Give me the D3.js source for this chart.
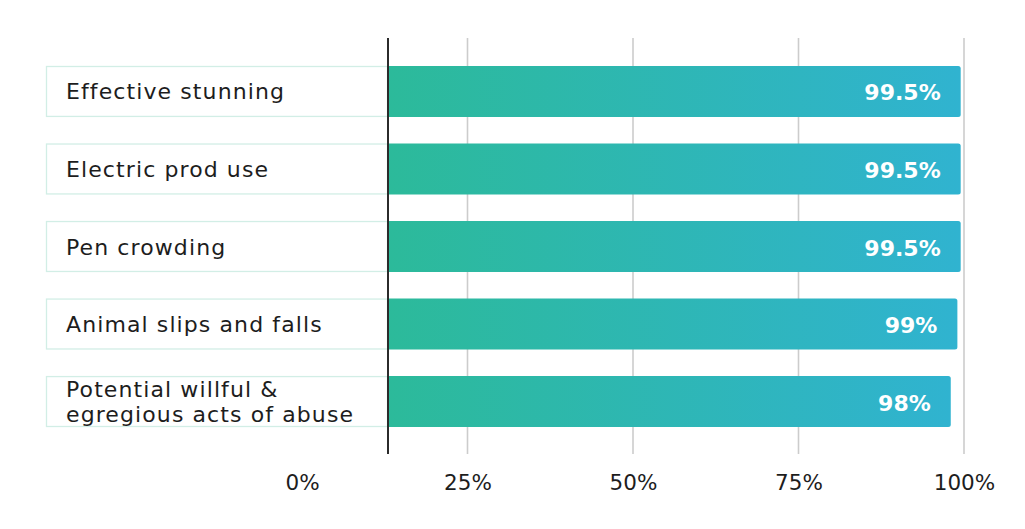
<!DOCTYPE html>
<html>
<head>
<meta charset="utf-8">
<script src="https://cdn.jsdelivr.net/npm/d3@7"></script>
<style>
  body { margin: 0; background: #fff; }
  text { font-family: "DejaVu Sans", sans-serif; }
</style>
</head>
<body>
<div id="chart"></div>
<script>
// Data
const categories = [
  ["Effective stunning"],
  ["Electric prod use"],
  ["Pen crowding"],
  ["Animal slips and falls"],
  ["Potential willful &", "egregious acts of abuse"]
];
const values = [99.5, 99.5, 99.5, 99, 98];
const valueLabels = ["99.5%", "99.5%", "99.5%", "99%", "98%"];
const tickValues = [0, 25, 50, 75, 100];

const width = 1025;
const height = 529;

const svg = d3.select("#chart")
  .append("svg")
  .attr("width", width)
  .attr("height", height);

// Gradient for bars
const grad = svg.append("defs").append("linearGradient")
  .attr("id", "barGrad")
  .attr("x1", "0%").attr("x2", "100%")
  .attr("y1", "0%").attr("y2", "0%");
grad.append("stop").attr("offset", "0%").attr("stop-color", "#2cba9a");
grad.append("stop").attr("offset", "100%").attr("stop-color", "#30b3d0");

// Scales
const x = d3.scaleLinear().domain([0, 100]).range([302, 964]);
const y = d3.scaleBand()
  .domain(d3.range(categories.length))
  .range([66, 427])
  .paddingInner(0.343)
  .paddingOuter(0);

const boxLeft = 46;
const axisX = 388;
const gridTop = 38;
const gridBottom = 454;

// Gridlines
svg.append("g")
  .selectAll("line")
  .data(tickValues.slice(1))
  .join("line")
  .attr("x1", d => x(d))
  .attr("x2", d => x(d))
  .attr("y1", gridTop)
  .attr("y2", gridBottom)
  .attr("stroke", "#cccccc")
  .attr("stroke-width", 1.6);

// Bars start at the axis line, rounded on the right end
svg.append("g")
  .selectAll("path")
  .data(values)
  .join("path")
  .attr("d", (d, i) => {
    const x0 = axisX, x1 = x(d), y0 = y(i), h = y.bandwidth(), r = 2.5;
    return `M${x0},${y0}H${x1 - r}Q${x1},${y0} ${x1},${y0 + r}V${y0 + h - r}Q${x1},${y0 + h} ${x1 - r},${y0 + h}H${x0}Z`;
  })
  .attr("fill", "url(#barGrad)");

// Label boxes
svg.append("g")
  .selectAll("rect")
  .data(categories)
  .join("rect")
  .attr("x", boxLeft + 0.5)
  .attr("y", (d, i) => y(i) + 0.5)
  .attr("width", axisX - boxLeft - 1)
  .attr("height", y.bandwidth() - 1)
  .attr("fill", "#fff")
  .attr("stroke", "#d2eee6")
  .attr("stroke-width", 1.3);

// Category labels
const labels = svg.append("g")
  .selectAll("text")
  .data(categories)
  .join("text")
  .attr("x", 66)
  .attr("y", (d, i) => y(i) + y.bandwidth() / 2 + 8 - (d.length - 1) * 12.5)
  .attr("fill", "#1d1d1d")
  .style("font-size", "22px")
  .style("letter-spacing", "1.1px");
labels.selectAll("tspan")
  .data(d => d)
  .join("tspan")
  .attr("x", 66)
  .attr("dy", (d, i) => i === 0 ? 0 : 25)
  .text(d => d);

// Value labels
svg.append("g")
  .selectAll("text")
  .data(values)
  .join("text")
  .attr("x", d => x(d) - 20)
  .attr("y", (d, i) => y(i) + y.bandwidth() / 2 + 9)
  .attr("text-anchor", "end")
  .attr("fill", "#fff")
  .style("font-size", "22px")
  .style("font-weight", "700")
  .text((d, i) => valueLabels[i]);

// Vertical axis line
svg.append("line")
  .attr("x1", axisX).attr("x2", axisX)
  .attr("y1", gridTop).attr("y2", gridBottom)
  .attr("stroke", "#2b2b2b")
  .attr("stroke-width", 2);

// X axis tick labels
const xAxis = svg.append("g")
  .attr("transform", "translate(0,470)")
  .call(d3.axisBottom(x).tickValues(tickValues).tickFormat(d => d + "%").tickSize(0));
xAxis.select(".domain").remove();
xAxis.selectAll("text")
  .attr("y", 0)
  .attr("dy", "0.95em")
  .style("font-family", "'DejaVu Sans', sans-serif")
  .style("font-size", "21.5px")
  .attr("fill", "#1d1d1d");
</script>
</body>
</html>
